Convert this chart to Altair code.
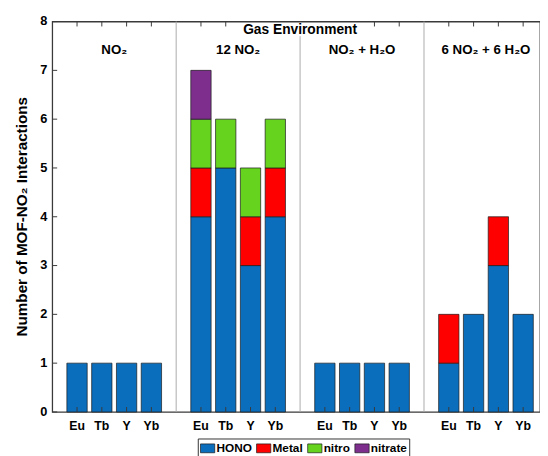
import altair as alt
import pandas as pd

groups = ["NO₂", "12 NO₂", "NO₂ + H₂O", "6 NO₂ + 6 H₂O"]
metals = ["Eu", "Tb", "Y", "Yb"]
categories = ["HONO", "Metal", "nitro", "nitrate"]
colors = ["#0A6EBD", "#FF0000", "#66D41E", "#7E2F8E"]
y_ticks = [0, 1, 2, 3, 4, 5, 6, 7, 8]
y_title = "Number of MOF-NO₂ Interactions"
env_title = "Gas Environment"

hono    = [1, 1, 1, 1, 4, 5, 3, 4, 1, 1, 1, 1, 1, 2, 3, 2]
metal   = [0, 0, 0, 0, 1, 0, 1, 1, 0, 0, 0, 0, 1, 0, 1, 0]
nitro   = [0, 0, 0, 0, 1, 1, 1, 1, 0, 0, 0, 0, 0, 0, 0, 0]
nitrate = [0, 0, 0, 0, 1, 0, 0, 0, 0, 0, 0, 0, 0, 0, 0, 0]

series = [hono, metal, nitro, nitrate]
slot = len(metals) + 1  # bars per group + gap

rows = []
bar_rows = []
for gi, g in enumerate(groups):
    for mi, m in enumerate(metals):
        idx = gi * len(metals) + mi
        pos = gi * slot + mi + 1
        bar_rows.append({"pos": pos, "metal": m})
        base = 0
        for ci, c in enumerate(categories):
            v = series[ci][idx]
            if v > 0:
                rows.append({"pos": pos, "group": g, "metal": m, "category": c,
                             "order": ci, "y0": base, "y1": base + v})
                base += v
df = pd.DataFrame(rows)
pos_df = pd.DataFrame(bar_rows)
gt_df = pd.DataFrame({"x": [gi * slot + (len(metals) + 1) / 2 for gi in range(len(groups))],
                      "label": groups, "y": [7.42] * len(groups)})
sep_df = pd.DataFrame({"x": [slot * k for k in range(1, len(groups))],
                       "ytop": [8, 7.7, 8], "ybot": [0, 0, 0]})
yt_df = pd.DataFrame({"v": y_ticks})
title_df = pd.DataFrame({"x": [slot * len(groups) / 2], "label": [env_title], "y": [7.82]})
ytitle_df = pd.DataFrame({"label": [y_title]})

W, H = 496, 397
XMAX = 19.68
FONT = "Liberation Sans"
AX = "#3a3a3a"

xs = alt.Scale(domain=[0, XMAX], nice=False, zero=False)
ys = alt.Scale(domain=[0, 8], nice=False)

bars = alt.Chart(df).transform_calculate(
    xa="datum.pos - 0.41", xb="datum.pos + 0.41"
).mark_bar(stroke="#1a1a1a", strokeWidth=0.7).encode(
    x=alt.X("xa:Q", scale=xs, axis=None),
    x2="xb:Q",
    y=alt.Y("y0:Q", scale=ys, axis=None),
    y2="y1:Q",
    color=alt.Color("category:N", scale=alt.Scale(domain=categories, range=colors),
                    legend=alt.Legend(orient="none", legendX=148, legendY=424,
                                      direction="horizontal", title=None,
                                      strokeColor="#333", padding=2,
                                      symbolType="M-1,-0.62H1V0.62H-1Z", symbolSize=210,
                                      symbolStrokeColor="#1a1a1a", symbolStrokeWidth=0.7,
                                      symbolOpacity=1,
                                      labelFont=FONT, labelFontSize=12, labelFontWeight="bold",
                                      labelColor="black", labelOffset=1, columnPadding=3,
                                      symbolOffset=0)),
    order=alt.Order("order:Q"),
)

seps = alt.Chart(sep_df).mark_rule(color="#aaaaaa", strokeWidth=1).encode(
    x=alt.X("x:Q", scale=xs, axis=None),
    y=alt.Y("ytop:Q", scale=ys, axis=None),
    y2="ybot:Q",
)

bottom_ticks = alt.Chart(pos_df).mark_rule(color=AX, strokeWidth=1).encode(
    x=alt.X("pos:Q", scale=xs, axis=None),
    y=alt.value(H), y2=alt.value(H - 5),
)

top_ticks = alt.Chart(pos_df).transform_filter(
    "abs(datum.pos - %f) > 2.5" % (slot * len(groups) / 2)
).mark_rule(color=AX, strokeWidth=1).encode(
    x=alt.X("pos:Q", scale=xs, axis=None),
    y=alt.value(0), y2=alt.value(5),
)

left_ticks = alt.Chart(yt_df).mark_rule(color=AX, strokeWidth=1).encode(
    y=alt.Y("v:Q", scale=ys, axis=None),
    x=alt.value(0), x2=alt.value(5),
)

y_labels = alt.Chart(yt_df).mark_text(font=FONT, fontSize=13, fontWeight="bold",
                                      color="black", align="right", baseline="middle",
                                      dx=-5).encode(
    y=alt.Y("v:Q", scale=ys, axis=None),
    x=alt.value(0),
    text="v:Q",
)

x_labels = alt.Chart(pos_df).mark_text(font=FONT, fontSize=12.5, fontWeight="bold",
                                       color="black", align="center", baseline="top").encode(
    x=alt.X("pos:Q", scale=xs, axis=None),
    y=alt.value(H + 8),
    text="metal:N",
)

y_title_mark = alt.Chart(ytitle_df).mark_text(font=FONT, fontSize=15.5, fontWeight="bold",
                                              color="black", angle=270, align="center",
                                              baseline="middle").encode(
    x=alt.value(-31), y=alt.value(H / 2), text="label:N",
)

gtitles = alt.Chart(gt_df).mark_text(font=FONT, fontSize=13.5, fontWeight="bold",
                                     color="black").encode(
    x=alt.X("x:Q", scale=xs, axis=None),
    y=alt.Y("y:Q", scale=ys, axis=None),
    text="label:N",
)

main_title = alt.Chart(title_df).mark_text(font=FONT, fontSize=14, fontWeight="bold",
                                           color="black").encode(
    x=alt.X("x:Q", scale=xs, axis=None),
    y=alt.Y("y:Q", scale=ys, axis=None),
    text="label:N",
)

chart = alt.layer(
    bars, seps, bottom_ticks, top_ticks, left_ticks, y_labels, x_labels,
    y_title_mark, gtitles, main_title
).properties(
    width=W, height=H,
    padding={"left": 45, "top": 10, "right": 0, "bottom": 41},
    autosize=alt.AutoSizeParams(type="none"),
).configure_view(stroke=AX, strokeWidth=1.3)

chart.save("out.html", embed_options={"renderer": "svg", "actions": False})
